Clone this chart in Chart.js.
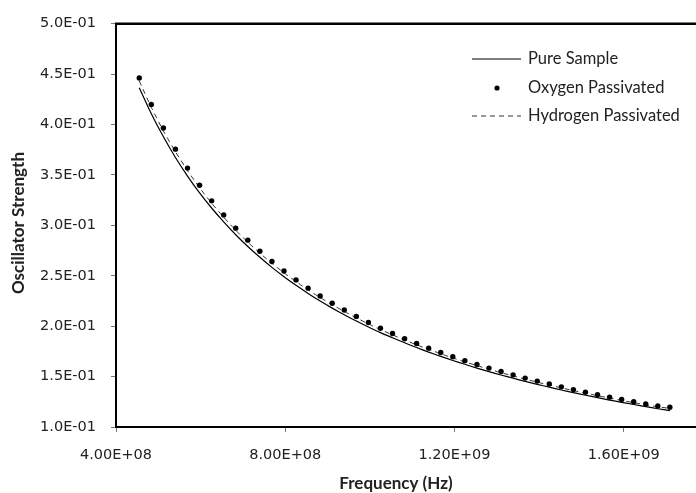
<!DOCTYPE html>
<html><head><meta charset="utf-8">
<script src="https://cdn.jsdelivr.net/npm/chart.js@4.4.1/dist/chart.umd.min.js"></script>
<style>
html,body{margin:0;padding:0;background:#fff;overflow:hidden;width:696px;height:493px}
#wrap{position:absolute;left:0;top:0;width:850px;height:493px}
</style>
</head><body><div id="wrap"><canvas id="c" width="850" height="493"></canvas></div>
<script>
const frequency = [4.550e8,4.835e8,5.120e8,5.405e8,5.690e8,5.975e8,6.260e8,6.545e8,6.830e8,7.115e8,7.400e8,7.685e8,7.970e8,8.255e8,8.540e8,8.825e8,9.110e8,9.395e8,9.680e8,9.965e8,1.0250e9,1.0535e9,1.0820e9,1.1105e9,1.1390e9,1.1675e9,1.1960e9,1.2245e9,1.2530e9,1.2815e9,1.3100e9,1.3385e9,1.3670e9,1.3955e9,1.4240e9,1.4525e9,1.4810e9,1.5095e9,1.5380e9,1.5665e9,1.5950e9,1.6235e9,1.6520e9,1.6805e9,1.7090e9];
const pureSample = [0.4364,0.4107,0.3878,0.3673,0.3489,0.3322,0.3172,0.3034,0.2907,0.2790,0.2683,0.2583,0.2491,0.2405,0.2325,0.2249,0.2179,0.2113,0.2051,0.1992,0.1936,0.1885,0.1835,0.1788,0.1743,0.1701,0.1660,0.1622,0.1584,0.1549,0.1516,0.1484,0.1452,0.1423,0.1395,0.1367,0.1341,0.1315,0.1291,0.1267,0.1245,0.1223,0.1202,0.1181,0.1162];
const oxygenPassivated = [0.4462,0.4199,0.3965,0.3756,0.3568,0.3397,0.3243,0.3102,0.2972,0.2853,0.2743,0.2641,0.2547,0.2459,0.2377,0.2300,0.2228,0.2161,0.2097,0.2037,0.1980,0.1927,0.1876,0.1828,0.1782,0.1739,0.1697,0.1658,0.1620,0.1584,0.1550,0.1517,0.1485,0.1455,0.1426,0.1398,0.1371,0.1345,0.1320,0.1296,0.1273,0.1250,0.1229,0.1208,0.1196];
const hydrogenPassivated = [0.4431,0.4170,0.3937,0.3730,0.3543,0.3373,0.3220,0.3080,0.2951,0.2833,0.2724,0.2623,0.2529,0.2442,0.2360,0.2284,0.2212,0.2146,0.2082,0.2023,0.1966,0.1914,0.1863,0.1815,0.1770,0.1727,0.1685,0.1646,0.1609,0.1573,0.1539,0.1506,0.1475,0.1445,0.1416,0.1388,0.1361,0.1336,0.1311,0.1287,0.1264,0.1241,0.1220,0.1200,0.1185];
const xTickValues = [4e8, 8e8, 1.2e9, 1.6e9, 2.0e9];
const yTickValues = [0.10,0.15,0.20,0.25,0.30,0.35,0.40,0.45,0.50];
const seriesNames = ['Pure Sample','Oxygen Passivated','Hydrogen Passivated'];
const xTitle = 'Frequency (Hz)';
const yTitle = 'Oscillator Strength';

function sci(v, d){
  const parts = v.toExponential(d).split('e');
  const e = parseInt(parts[1],10);
  return parts[0] + 'E' + (e < 0 ? '-' : '+') + String(Math.abs(e)).padStart(2,'0');
}
const pts = arr => frequency.map((f,i)=>({x:f,y:arr[i]}));
const TXT = '#222';

const decor = {
  id:'decor',
  afterDraw(chart){
    const ctx = chart.ctx, a = chart.chartArea;
    ctx.save();
    // top frame line
    ctx.strokeStyle='#000'; ctx.lineWidth=2.5;
    ctx.beginPath(); ctx.moveTo(a.left-1, a.top); ctx.lineTo(a.right, a.top); ctx.stroke();
    // legend
    ctx.lineWidth=1.2; ctx.strokeStyle='#000';
    ctx.beginPath(); ctx.moveTo(472,59); ctx.lineTo(521,59); ctx.stroke();
    ctx.fillStyle='#000';
    ctx.beginPath(); ctx.arc(497,88,2.6,0,Math.PI*2); ctx.fill();
    ctx.setLineDash([5,4]); ctx.strokeStyle='#333'; ctx.lineWidth=1;
    ctx.beginPath(); ctx.moveTo(472,116); ctx.lineTo(521,116); ctx.stroke();
    ctx.setLineDash([]);
    ctx.fillStyle=TXT; ctx.font='16.5px Lato'; ctx.textBaseline='middle'; ctx.textAlign='left';
    ctx.fillText(seriesNames[0],528,59);
    ctx.fillText(seriesNames[1],528,88);
    ctx.fillText(seriesNames[2],528,116);
    // axis titles
    ctx.font='bold 17px Lato'; ctx.textAlign='center';
    ctx.fillText(xTitle,396,484);
    ctx.translate(19,223); ctx.rotate(-Math.PI/2);
    ctx.fillText(yTitle,0,0);
    ctx.restore();
  }
};

new Chart(document.getElementById('c'), {
  type:'line',
  data:{datasets:[
    {label:seriesNames[1], data:pts(oxygenPassivated), showLine:false, pointRadius:2.7, pointBackgroundColor:'#000', pointBorderWidth:0, order:0},
    {label:seriesNames[2], data:pts(hydrogenPassivated), borderColor:'#333', borderWidth:1, borderDash:[5,4], pointRadius:0, tension:0.2, order:1},
    {label:seriesNames[0], data:pts(pureSample), borderColor:'#000', borderWidth:1.2, pointRadius:0, tension:0.2, order:2}
  ]},
  plugins:[decor],
  options:{
    responsive:false, animation:false, devicePixelRatio:1,
    layout:{padding:{left:0,top:20,right:57,bottom:0}},
    plugins:{legend:{display:false}, tooltip:{enabled:false}},
    scales:{
      x:{type:'linear', min:4e8, max:2e9,
        afterBuildTicks(s){ s.ticks = xTickValues.map(v=>({value:v})); },
        afterFit(s){ s.height = 66; },
        ticks:{callback:v=>sci(v,2), color:TXT, font:{family:'DejaVu Sans', size:14.5}, padding:15, maxRotation:0, autoSkip:false},
        grid:{drawOnChartArea:false, drawTicks:true, tickLength:5, color:'#777'},
        border:{display:true, color:'#000', width:2}
      },
      y:{type:'linear', min:0.1, max:0.5,
        afterBuildTicks(s){ s.ticks = yTickValues.map(v=>({value:v})); },
        afterFit(s){ s.width = 116; },
        ticks:{callback:v=>sci(v,1), color:TXT, font:{family:'DejaVu Sans', size:14.5}, padding:15},
        grid:{drawOnChartArea:false, drawTicks:true, tickLength:5, color:'#777'},
        border:{display:true, color:'#000', width:2}
      }
    }
  }
});
</script></body></html>
